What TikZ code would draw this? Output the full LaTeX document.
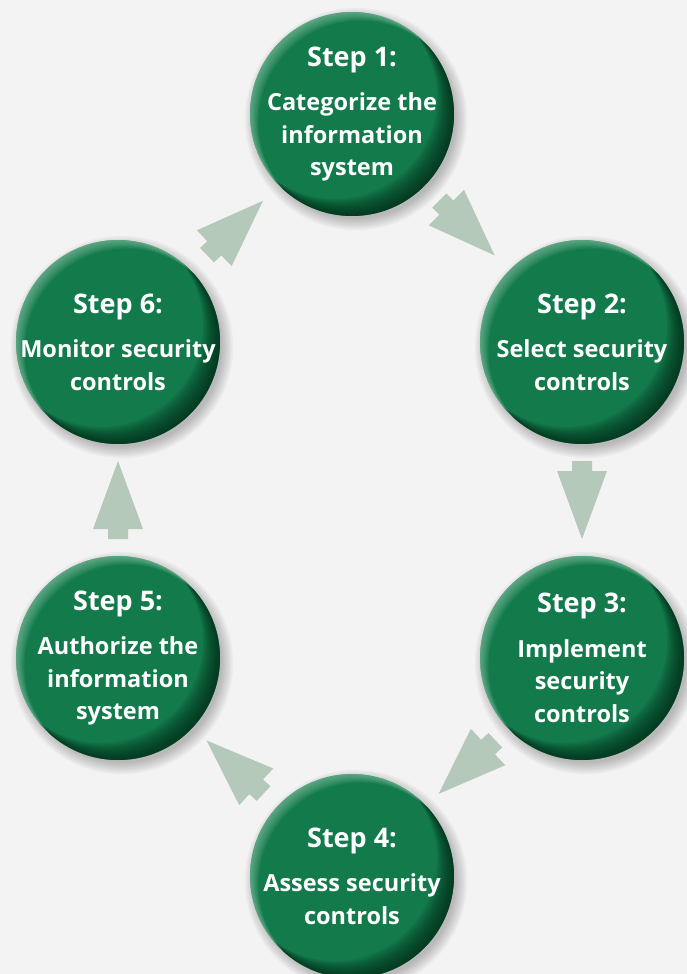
\documentclass[tikz,border=0pt]{standalone}
\usepackage{fontspec}
\setmainfont{Open Sans}
\usetikzlibrary{calc}
\definecolor{bg}{RGB}{243,243,243}
\definecolor{ball}{RGB}{19,122,76}
\definecolor{balldark}{RGB}{0,36,18}
\definecolor{balllight}{RGB}{170,215,190}
\definecolor{arrowcol}{RGB}{181,201,186}
\newcommand{\stephead}[1]{{\fontsize{27bp}{27bp}\selectfont #1}}
% draw a shaded green ball centred on a named coordinate
\newcommand{\greenball}[1]{%
  \foreach \k in {0,...,7}{
    \fill[ballshadow] ([shift={(4,5)}]#1) circle ({100bp+\k*1.6bp});
  }
  \fill[ball] (#1) circle (102bp);
  \begin{scope}[x=1bp, y=1bp]
    \foreach \s in {2,4,...,24}{
      \pgfmathsetmacro\al{acos(\s/204)}
      \fill[balldark, opacity=0.09] (#1) ++({135+\al}:102)
        arc[start angle={135+\al}, end angle={495-\al}, radius=102]
        arc[start angle={315+\al}, end angle={315-\al}, radius=102] -- cycle;
    }
    \foreach \s in {1.5,3,...,12}{
      \pgfmathsetmacro\al{acos(\s/204)}
      \fill[balllight, opacity=0.08] (#1) ++({-45+\al}:102)
        arc[start angle={-45+\al}, end angle={315-\al}, radius=102]
        arc[start angle={135+\al}, end angle={135-\al}, radius=102] -- cycle;
    }
  \end{scope}
}
\tikzset{
  stepball/.style={circle, minimum size=204bp, inner sep=0pt,
    text=white, align=center,
    font=\bfseries\fontsize{23.5bp}{32.5bp}\selectfont},
  blockarrow/.style={fill=arrowcol, draw=none},
  ballshadow/.style={fill=black, opacity=0.03}
}
\begin{document}
\begin{tikzpicture}[x=1bp, y=-1bp]
\useasboundingbox (0,0) rectangle (687,974);
\fill[bg] (0,0) rectangle (687,974);
\coordinate (c1) at (352,114);
\coordinate (c2) at (582,342);
\coordinate (c3) at (582,658);
\coordinate (c4) at (352,876);
\coordinate (c5) at (118,658);
\coordinate (c6) at (118,342);
\foreach \c in {c1,c2,c3,c4,c5,c6}{\greenball{\c}}
\node[stepball] (s1) at (c1) {\stephead{Step 1:}\\[12bp]Categorize the\\information\\system};
\node[stepball] (s2) at (c2) {\stephead{Step 2:}\\[12bp]Select security\\controls};
\node[stepball] (s3) at (c3) {\stephead{Step 3:}\\[12bp]Implement\\security\\controls};
\node[stepball] (s4) at (c4) {\stephead{Step 4:}\\[12bp]Assess security\\controls};
\node[stepball] (s5) at (c5) {\stephead{Step 5:}\\[12bp]Authorize the\\information\\system};
\node[stepball] (s6) at (c6) {\stephead{Step 6:}\\[12bp]Monitor security\\controls};
% block arrows between consecutive steps
\foreach \a/\b in {s1/s2,s2/s3,s3/s4,s4/s5,s5/s6,s6/s1}{
  \pgfmathanglebetweenpoints{\pgfpointanchor{\a}{center}}{\pgfpointanchor{\b}{center}}
  \let\arrang\pgfmathresult
  \begin{scope}[shift={($(\a)!0.5!(\b)$)}, rotate=\arrang]
    \fill[blockarrow] (39,0) -- (-29,25) -- (-29,10) -- (-39,10)
      -- (-39,-10) -- (-29,-10) -- (-29,-25) -- cycle;
  \end{scope}
}
\end{tikzpicture}
\end{document}
